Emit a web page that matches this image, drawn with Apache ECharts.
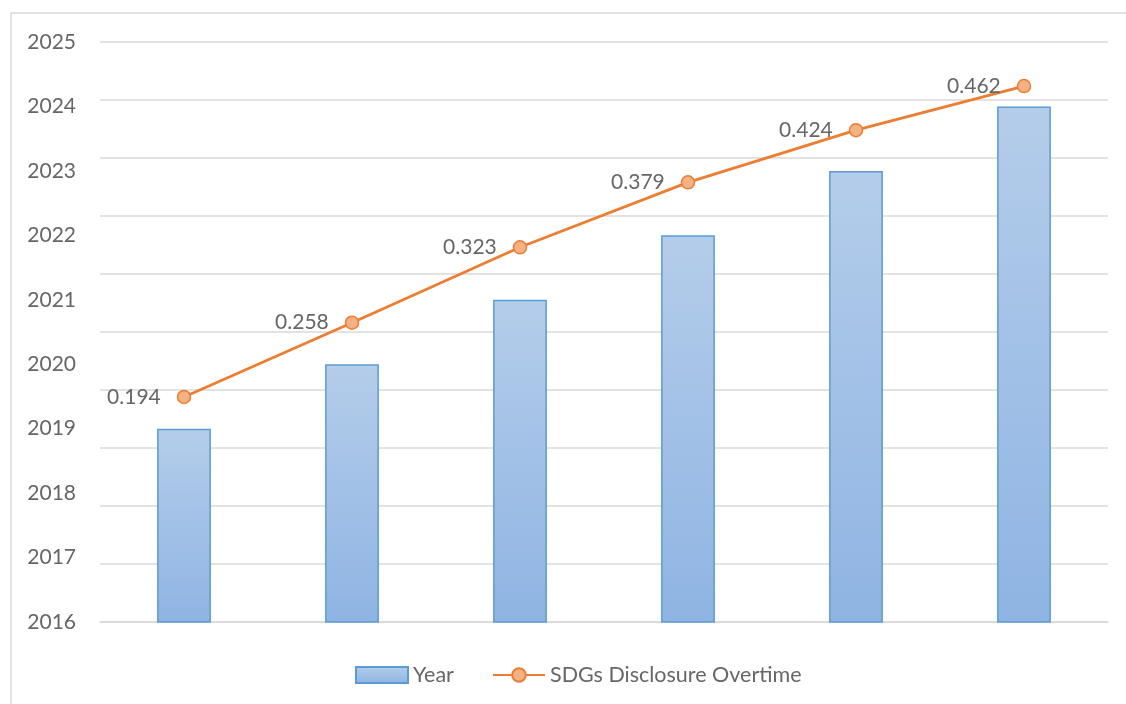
<!DOCTYPE html>
<html><head><meta charset="utf-8">
<script src="https://cdn.jsdelivr.net/npm/echarts@6/dist/echarts.min.js"></script>
<style>html,body{margin:0;padding:0;background:#fff}#c{width:1126px;height:704px}</style>
</head><body><div id="c"></div>
<script>
const categories = ['1', '2', '3', '4', '5', '6'];
const yearValues = [2019, 2020, 2021, 2022, 2023, 2024];
const disclosureValues = [0.194, 0.258, 0.323, 0.379, 0.424, 0.462];
const yearAxisTicks = [2016, 2025];

const chart = echarts.init(document.getElementById('c'), null, {renderer: 'canvas'});
const font = 'Lato, "Open Sans", sans-serif';
const textColor = '#666666';
chart.setOption({
  animation: false,
  backgroundColor: '#fff',
  graphic: [{
    type: 'rect', shape: {x: 11, y: 13, width: 1200, height: 800},
    style: {fill: 'none', stroke: '#d9d9d9', lineWidth: 1.5}, silent: true
  }],
  grid: {left: 100, right: 18, top: 42, bottom: 82},
  legend: [{
    left: 355, top: 664, padding: 0, data: [{name: 'Year', icon: 'rect'}], itemWidth: 52, itemHeight: 16, itemGap: 4,
    textStyle: {color: textColor, fontSize: 21.5, fontFamily: font}
  }, {
    left: 492, top: 664, padding: 0, data: ['SDGs Disclosure Overtime'], itemWidth: 52, itemHeight: 17,
    textStyle: {color: textColor, fontSize: 21.5, fontFamily: font}
  }],
  xAxis: {
    type: 'category', data: categories,
    axisLine: {show: true, lineStyle: {color: '#d9d9d9', width: 1.5}},
    axisTick: {show: false}, axisLabel: {show: false}
  },
  yAxis: [{
    type: 'value', min: yearAxisTicks[0], max: yearAxisTicks[1], interval: 1, position: 'left',
    axisLine: {show: false}, axisTick: {show: false}, splitLine: {show: false},
    axisLabel: {color: textColor, fontSize: 21, fontFamily: font, margin: 24, formatter: v => String(v)}
  }, {
    type: 'value', min: 0, max: 0.5, interval: 0.05, position: 'right',
    axisLine: {show: false}, axisTick: {show: false}, axisLabel: {show: false},
    splitLine: {show: true, lineStyle: {color: '#d9d9d9', width: 1.5}}
  }],
  series: [{
    name: 'Year', type: 'bar', yAxisIndex: 0, data: yearValues, barWidth: '32%',
    itemStyle: {
      color: new echarts.graphic.LinearGradient(0, 0, 0, 1, [
        {offset: 0, color: '#b4cdea'}, {offset: 1, color: '#8fb4e3'}
      ]),
      borderColor: '#5b9bd5', borderWidth: 1.5
    }
  }, {
    name: 'SDGs Disclosure Overtime', type: 'line', yAxisIndex: 1, data: disclosureValues,
    symbol: 'circle', symbolSize: 13,
    lineStyle: {color: '#ed7d31', width: 2.75},
    itemStyle: {color: '#f4b183', borderColor: '#ed7d31', borderWidth: 1.5},
    label: {show: true, position: 'left', distance: 16, color: textColor, fontSize: 21, fontFamily: font,
      formatter: p => p.value.toFixed(3)}
  }]
});
</script></body></html>
